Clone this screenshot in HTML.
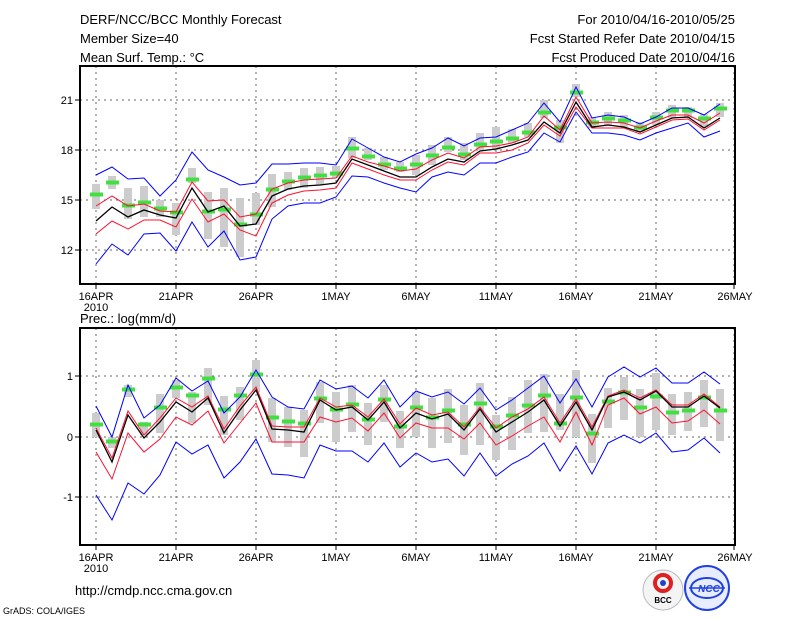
<!DOCTYPE html>
<html><head><meta charset="utf-8"><style>
html,body{margin:0;padding:0;background:#fff;}
svg{display:block;}
text{font-family:"Liberation Sans",sans-serif;fill:#000;}
</style></head><body>
<svg id="s" width="800" height="618" viewBox="0 0 800 618" xmlns="http://www.w3.org/2000/svg">
<rect width="800" height="618" fill="#fff"/>
<g font-size="13">
<text x="80" y="24">DERF/NCC/BCC Monthly Forecast</text>
<text x="80" y="43">Member Size=40</text>
<text x="80" y="62">Mean Surf. Temp.: °C</text>
<text x="735" y="24" text-anchor="end">For 2010/04/16-2010/05/25</text>
<text x="735" y="43" text-anchor="end">Fcst Started Refer Date 2010/04/15</text>
<text x="735" y="62" text-anchor="end">Fcst Produced Date 2010/04/16</text>
<text x="80" y="323">Prec.: log(mm/d)</text>
<text x="75" y="595">http://cmdp.ncc.cma.gov.cn</text>
</g>
<g font-size="11" text-anchor="end">
<text x="73" y="104">21</text><text x="73" y="154">18</text><text x="73" y="204">15</text><text x="73" y="254">12</text>
<text x="73" y="380">1</text><text x="73" y="441">0</text><text x="73" y="501">-1</text>
</g>
<g font-size="11" text-anchor="middle">
<text x="96" y="300">16APR</text><text x="96" y="311">2010</text><text x="176" y="300">21APR</text><text x="256" y="300">26APR</text><text x="336" y="300">1MAY</text><text x="416" y="300">6MAY</text><text x="496" y="300">11MAY</text><text x="576" y="300">16MAY</text><text x="656" y="300">21MAY</text><text x="735" y="300">26MAY</text>
<text x="96" y="561">16APR</text><text x="96" y="572">2010</text><text x="176" y="561">21APR</text><text x="256" y="561">26APR</text><text x="336" y="561">1MAY</text><text x="416" y="561">6MAY</text><text x="496" y="561">11MAY</text><text x="576" y="561">16MAY</text><text x="656" y="561">21MAY</text><text x="735" y="561">26MAY</text>
</g>
<text x="3" y="614" font-size="9">GrADS: COLA/IGES</text>
<g id="plots"></g>
<rect x="80" y="66" width="655" height="218" fill="none" stroke="#000" stroke-width="2"/>
<rect x="80" y="328" width="655" height="217" fill="none" stroke="#000" stroke-width="2"/>
<g>
<circle cx="663" cy="590" r="20" fill="#f4f4f4" stroke="#bbb"/>
<circle cx="663" cy="583" r="8" fill="none" stroke="#e02020" stroke-width="4"/>
<circle cx="663" cy="583" r="3" fill="#2040d0"/>
<text x="663" y="603" font-size="8" text-anchor="middle" font-weight="bold">BCC</text>
<circle cx="707" cy="588" r="22" fill="#e8ecff" stroke="#2040e0" stroke-width="2"/>
<ellipse cx="707" cy="588" rx="16" ry="10" fill="none" stroke="#2040e0" stroke-width="2"/>
<line x1="689" y1="588" x2="725" y2="588" stroke="#2040e0" stroke-width="1.5"/>
<text x="709" y="592" font-size="10" text-anchor="middle" fill="#2040e0" font-style="italic" font-weight="bold" style="fill:#2040e0">NCC</text>
</g>
</svg>
<script>
var ns="http://www.w3.org/2000/svg",g=document.getElementById("plots");
function el(t,a){var e=document.createElementNS(ns,t);for(var k in a)e.setAttribute(k,a[k]);g.appendChild(e);return e;}
function X(i){return 96+16*i;}
// grid
function grid(y0,y1,ys){
 for(var d=0;d<=8;d++){var x=96+80*d;if(x>734)x=734;el("line",{x1:x,y1:y0,x2:x,y2:y1,stroke:"#666","stroke-width":1,"stroke-dasharray":"2,4"});el("line",{x1:x,y1:y1,x2:x,y2:y1+5,stroke:"#000"});}
 ys.forEach(function(y){el("line",{x1:80,y1:y,x2:735,y2:y,stroke:"#666","stroke-width":1,"stroke-dasharray":"2,4"});el("line",{x1:75,y1:y,x2:80,y2:y,stroke:"#000"});});
}
grid(66,284,[100,150,200,250]);
grid(328,545,[376,437,497]);
function draw(d){
 var n=d.g.length;
 for(var i=0;i<n;i++){el("rect",{x:X(i)-4,y:d.bt[i],width:8,height:Math.max(2,d.bb[i]-d.bt[i]),fill:"#cccccc"});}
 for(var i=0;i<n;i++){el("rect",{x:X(i)-6,y:d.g[i]-1.5,width:13,height:4,fill:"#40e040"});}
 function pl(a,c,w){el("polyline",{points:a.map(function(v,i){return X(i)+","+v;}).join(" "),fill:"none",stroke:c,"stroke-width":w});}
 pl(d.bu,"#0000ff",1);pl(d.bl,"#0000ff",1);pl(d.ru,"#ff1030",1);pl(d.rl,"#ff1030",1);pl(d.k,"#000",1.3);
}
draw({
g:[194,182,205,202,208,212,179,211,209,224,214,189,181,177,175,173,148,156,164,168,164,155,147,154,144,141,138,132,112,127,92,122,118,120,127,117,110,110,118,108],
k:[221,207,217,210,215,218,188,212,206,226,224,196,189,186,185,183,159,165,171,177,177,167,159,162,151,149,145,140,122,133,102,127,125,127,132,125,118,117,128,118],
ru:[206,196,206,204,211,212,182,201,200,217,214,189,183,180,179,178,156,162,166,171,169,160,153,158,147,146,143,137,116,130,97,123,122,123,128,121,115,115,123,113],
rl:[234,221,229,220,220,227,199,222,214,230,236,203,195,191,190,188,163,169,175,180,180,170,162,165,153,153,150,143,125,136,107,128,128,128,134,127,120,119,130,120],
bu:[175,167,179,178,196,180,152,170,177,185,183,164,164,163,163,165,139,148,157,162,154,148,138,146,138,137,130,123,103,122,87,118,115,117,124,117,108,108,115,104],
bl:[264,244,255,234,233,251,222,247,231,260,257,219,206,203,203,197,176,177,183,188,192,177,172,175,163,163,157,152,133,142,112,133,133,135,140,133,128,123,137,131],
bt:[184,176,188,186,200,203,168,192,188,198,193,174,172,168,167,166,137,148,157,162,155,145,137,143,133,127,129,123,100,120,84,117,112,115,122,112,105,107,114,103],
bb:[209,189,219,217,217,235,183,239,247,257,225,207,190,188,185,178,158,160,170,172,175,165,152,160,150,150,143,137,118,143,97,128,125,127,132,125,118,118,127,117]
});
draw({
g:[424,441,389,424,407,387,395,378,409,395,374,417,421,423,398,409,404,419,399,426,407,417,410,424,403,426,415,405,395,423,397,433,401,392,407,396,412,410,397,410],
k:[430,462,415,438,422,402,412,398,433,410,390,429,430,432,400,410,407,420,402,428,413,419,414,430,409,432,422,412,400,426,402,430,397,392,400,391,407,407,396,408],
ru:[428,458,411,435,418,398,407,396,429,406,387,426,427,427,398,407,405,417,399,424,408,415,412,427,407,428,417,409,397,423,399,427,396,390,398,390,405,405,394,407],
rl:[452,479,433,452,439,417,425,411,443,423,403,442,442,442,417,422,418,431,413,438,423,428,428,439,423,445,436,426,417,442,412,445,405,398,414,407,423,421,410,424],
bu:[406,437,385,418,405,378,391,381,413,397,370,397,407,409,380,389,386,398,380,407,391,397,392,404,388,410,400,388,376,403,379,407,377,367,377,368,383,383,372,384],
bl:[495,520,483,494,475,442,454,445,478,462,439,474,475,478,445,451,451,462,443,467,453,462,459,476,453,476,464,456,443,471,446,474,443,435,443,433,452,450,438,453],
bt:[413,437,385,422,394,380,392,368,396,387,360,398,407,410,382,392,385,403,385,411,392,398,389,405,383,415,397,380,374,394,370,414,388,377,389,373,394,392,380,389],
bb:[437,448,397,435,433,398,423,405,435,420,392,442,447,457,423,442,432,445,422,448,437,448,443,455,445,460,450,433,432,430,437,463,428,420,437,430,435,431,427,441]
});
</script>
</body></html>
